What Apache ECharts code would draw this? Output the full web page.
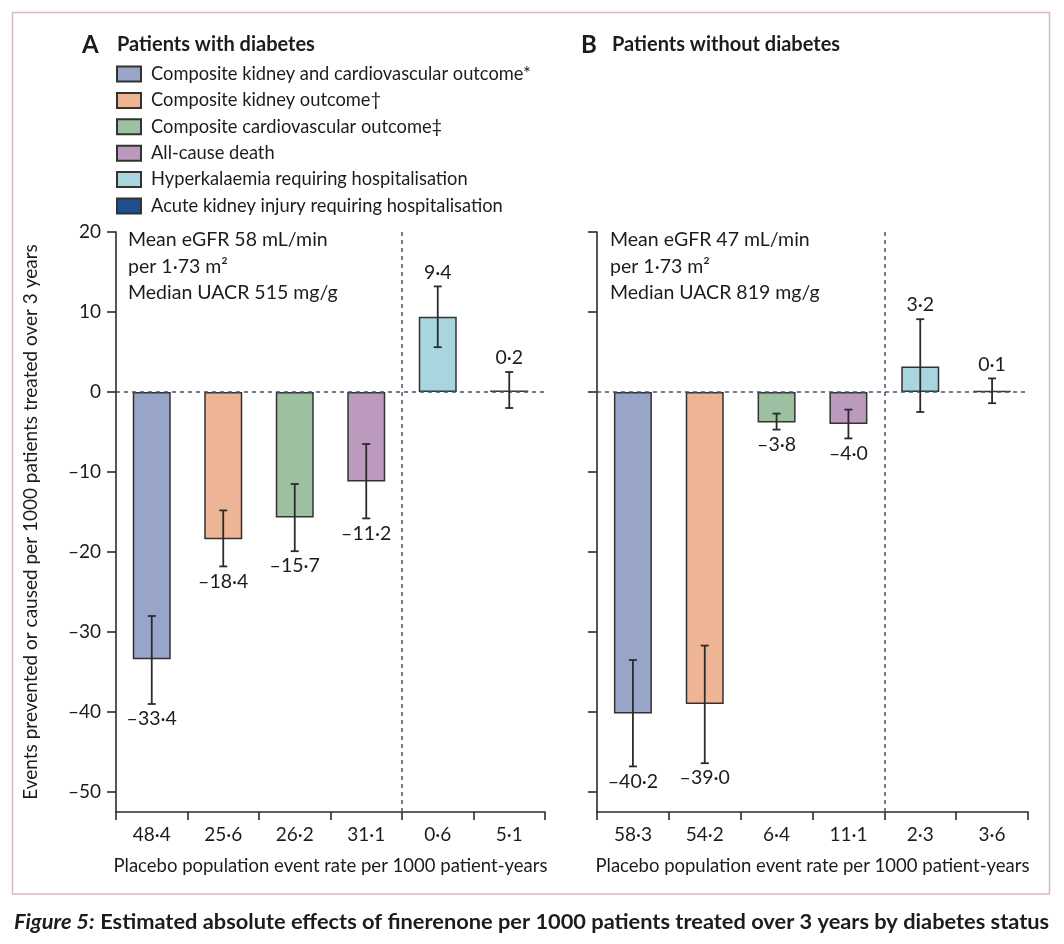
<!DOCTYPE html>
<html>
<head>
<meta charset="utf-8">
<script src="https://cdn.jsdelivr.net/npm/echarts@6/dist/echarts.min.js"></script>
<style>
  html, body { margin: 0; padding: 0; background: #fff; }
  #chart { width: 1064px; height: 944px; }
</style>
</head>
<body>
<div id="chart"></div>
<script>
// 结局名称（图例）
const outcomes = [
  'Composite kidney and cardiovascular outcome*',
  'Composite kidney outcome\u2020',
  'Composite cardiovascular outcome\u2021',
  'All-cause death',
  'Hyperkalaemia requiring hospitalisation',
  'Acute kidney injury requiring hospitalisation'
];
const colors = ['#99a4c9', '#edb596', '#9cc0a0', '#bc9abd', '#a9d5df', '#1f4f8c'];

// 安慰剂组事件率（x 轴标签）
const rateWith = [48.4, 25.6, 26.2, 31.1, 0.6, 5.1];
const rateWithout = [58.3, 54.2, 6.4, 11.1, 2.3, 3.6];

// 每 1000 人 3 年内预防或导致的事件
const effectWith = [-33.4, -18.4, -15.7, -11.2, 9.4, 0.2];
const lowWith = [-39.0, -21.8, -19.9, -15.8, 5.6, -2.0];
const highWith = [-28.0, -14.8, -11.5, -6.5, 13.2, 2.5];

const effectWithout = [-40.2, -39.0, -3.8, -4.0, 3.2, 0.1];
const lowWithout = [-46.8, -46.4, -4.7, -5.8, -2.5, -1.4];
const highWithout = [-33.5, -31.7, -2.7, -2.2, 9.1, 1.7];

const yTicks = [-50, -40, -30, -20, -10, 0, 10, 20];
const xTicks = [0, 1, 2, 3, 4, 5, 6];
const xCenters = [0.5, 1.5, 2.5, 3.5, 4.5, 5.5];

const FONT = 'Lato, "Open Sans", sans-serif';
const INK = '#1c1c1c';

function fmt(v) {
  return (v < 0 ? '\u2013' : '') + Math.abs(v).toFixed(1).replace('.', '\u00b7');
}
function fmtInt(v) {
  return (v < 0 ? '\u2013' : '') + Math.abs(v);
}

let myChart = echarts.init(document.getElementById('chart'), null, { renderer: 'canvas' });

function xAxisOf(gridIndex, rates) {
  return {
    type: 'value', gridIndex: gridIndex, min: 0, max: 6,
    name: 'Placebo population event rate per 1000 patient-years',
    nameLocation: 'middle', nameGap: 45,
    nameTextStyle: { fontFamily: FONT, fontSize: 18.5, color: INK },
    axisLine: { onZero: false, lineStyle: { color: '#2b2b2b', width: 1.6 } },
    axisTick: { customValues: xTicks, length: 8, lineStyle: { color: '#2b2b2b', width: 1.6 } },
    axisLabel: {
      customValues: xCenters, margin: 13,
      fontFamily: FONT, fontSize: 19, color: INK,
      formatter: function (v) { return fmt(rates[Math.floor(v)]); }
    },
    splitLine: { show: false }
  };
}

function yAxisOf(gridIndex, showLabels) {
  return {
    type: 'value', gridIndex: gridIndex, min: -52.5, max: 20,
    name: showLabels ? 'Events prevented or caused per 1000 patients treated over 3 years' : '',
    nameLocation: 'middle', nameGap: 76,
    nameTextStyle: { fontFamily: FONT, fontSize: 19, color: INK },
    axisLine: { onZero: false, lineStyle: { color: '#2b2b2b', width: 1.6 } },
    axisTick: { customValues: yTicks, length: 9, lineStyle: { color: '#2b2b2b', width: 1.6 } },
    axisLabel: {
      show: showLabels, customValues: yTicks, margin: 15,
      fontFamily: FONT, fontSize: 19, color: INK,
      formatter: fmtInt
    },
    splitLine: { show: false }
  };
}

// 误差线 + 数值标签
function renderErr(params, api) {
  const x = api.value(0);
  const lo = api.coord([x, api.value(1)]);
  const hi = api.coord([x, api.value(2)]);
  const v = api.value(3);
  const cap = 4;
  const st = { stroke: '#2b2b2b', lineWidth: 1.8 };
  const below = v < 0;
  return {
    type: 'group',
    children: [
      { type: 'line', shape: { x1: lo[0], y1: lo[1], x2: hi[0], y2: hi[1] }, style: st },
      { type: 'line', shape: { x1: lo[0] - cap, y1: lo[1], x2: lo[0] + cap, y2: lo[1] }, style: st },
      { type: 'line', shape: { x1: hi[0] - cap, y1: hi[1], x2: hi[0] + cap, y2: hi[1] }, style: st },
      {
        type: 'text',
        x: below ? lo[0] : hi[0],
        y: below ? lo[1] + 5 : hi[1] - 4,
        style: {
          text: fmt(v), fill: INK, fontFamily: FONT, fontSize: 19.5,
          align: 'center', verticalAlign: below ? 'top' : 'bottom'
        }
      }
    ]
  };
}

const refLine = {
  silent: true, symbol: ['none', 'none'], animation: false,
  label: { show: false },
  lineStyle: { color: '#46536a', width: 1.5, type: [4, 4] },
  data: [{ yAxis: 0 }, { xAxis: 4 }]
};

const series = [];
[[effectWith, lowWith, highWith], [effectWithout, lowWithout, highWithout]].forEach(function (set, g) {
  const eff = set[0], lo = set[1], hi = set[2];
  outcomes.forEach(function (name, i) {
    const s = {
      type: 'bar', name: name, xAxisIndex: g, yAxisIndex: g,
      barWidth: 38, barGap: '-100%',
      itemStyle: { color: colors[i], borderColor: '#333', borderWidth: 1.5 },
      data: [[xCenters[i], eff[i]]],
      silent: true, animation: false
    };
    if (i === 0) s.markLine = refLine;
    series.push(s);
  });
  series.push({
    type: 'custom', xAxisIndex: g, yAxisIndex: g, z: 5,
    renderItem: renderErr, silent: true, animation: false,
    encode: { x: 0, y: [1, 2] },
    data: eff.map(function (v, i) { return [xCenters[i], lo[i], hi[i], v]; })
  });
});

const annoA = ['Mean eGFR 58 mL/min', 'per 1\u00b773 m\u00b2', 'Median UACR 515 mg/g'];
const annoB = ['Mean eGFR 47 mL/min', 'per 1\u00b773 m\u00b2', 'Median UACR 819 mg/g'];

function annoText(left, lines) {
  return lines.map(function (t, k) {
    return {
      type: 'text', left: left, top: 230 + k * 26.5,
      style: { text: t, fill: INK, fontFamily: FONT, fontSize: 19.5 }
    };
  });
}

myChart.setOption({
  backgroundColor: '#fff',
  animation: false,
  grid: [
    { left: 116, top: 232, width: 429, height: 580 },
    { left: 597, top: 232, width: 431, height: 580 }
  ],
  xAxis: [xAxisOf(0, rateWith), xAxisOf(1, rateWithout)],
  yAxis: [yAxisOf(0, true), yAxisOf(1, false)],
  legend: {
    orient: 'vertical', left: 111, top: 60,
    itemWidth: 24, itemHeight: 15, itemGap: 8.4,
    icon: 'rect', selectedMode: false,
    data: outcomes,
    textStyle: { fontFamily: FONT, fontSize: 18.3, lineHeight: 18, color: INK, padding: [0, 0, 0, 5] }
  },
  graphic: [
    {
      type: 'rect', shape: { x: 12.5, y: 12.5, width: 1037, height: 881.5 },
      style: { fill: 'none', stroke: '#d7b7c2', lineWidth: 1.5 }, silent: true
    },
    { type: 'text', left: 82, top: 33, style: { text: 'A', fill: INK, fontFamily: FONT, fontSize: 24, fontWeight: 'bold' } },
    { type: 'text', left: 117, top: 35, style: { text: 'Patients with diabetes', fill: INK, fontFamily: FONT, fontSize: 20, fontWeight: 'bold' } },
    { type: 'text', left: 581, top: 33, style: { text: 'B', fill: INK, fontFamily: FONT, fontSize: 24, fontWeight: 'bold' } },
    { type: 'text', left: 612, top: 35, style: { text: 'Patients without diabetes', fill: INK, fontFamily: FONT, fontSize: 20, fontWeight: 'bold' } },
    {
      type: 'text', left: 14, top: 911,
      style: {
        text: '{it|Figure 5:} {b|Estimated absolute effects of finerenone per 1000 patients treated over 3 years by diabetes status}',
        fontFamily: FONT, fontSize: 21.8, fill: INK,
        rich: {
          it: { fontFamily: FONT, fontSize: 21.8, fontStyle: 'italic', fontWeight: 'bold', fill: INK },
          b: { fontFamily: FONT, fontSize: 21.8, fontWeight: 'bold', fill: INK }
        }
      }
    }
  ].concat(annoText(128, annoA), annoText(610, annoB)),
  series: series
});
</script>
</body>
</html>
